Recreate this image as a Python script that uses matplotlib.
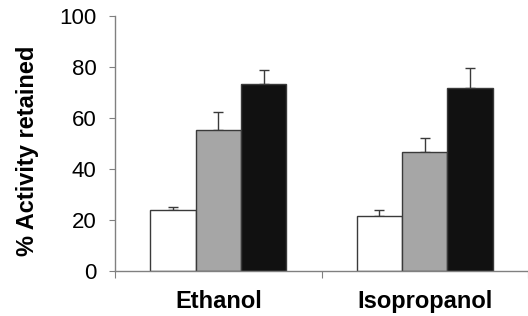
import numpy as np
import matplotlib.pyplot as plt

plt.rcParams['font.family'] = ['Liberation Sans', 'DejaVu Sans']

solvents = ['Ethanol', 'Isopropanol']
vals_white = [23.8, 21.4]
vals_gray = [55.4, 46.8]
vals_black = [73.5, 71.9]
err_white = [1.2, 2.4]
err_gray = [7.0, 5.4]
err_black = [5.5, 7.9]

fig = plt.figure(figsize=(5.28, 3.16), dpi=100)
ax = fig.add_axes([0.218, 0.1434, 0.782, 0.8056])

x = np.arange(len(solvents)) + 0.5
w = 0.22
axis_col = '#808080'
edge = '#3a3a3a'
ekw = dict(ecolor=edge, elinewidth=1.0, capthick=1.0)

for off, v, e, c in [(-w, vals_white, err_white, 'white'),
                     (0, vals_gray, err_gray, '#a6a6a6'),
                     (w, vals_black, err_black, '#111111')]:
    ax.bar(x + off, v, w, color=c, edgecolor=edge, linewidth=1.0, zorder=2)
    ax.errorbar(x + off, v, yerr=[np.zeros(len(e)), e], fmt='none',
                capsize=3.6, zorder=1, **ekw)

ax.set_xlim(0, 1.957)
ax.set_ylim(0, 100)
ax.set_yticks([0, 20, 40, 60, 80, 100])
ax.set_xticks([0, 1, 2])
ax.set_xticklabels([])
ax.set_xticks(x, minor=True)
ax.set_xticklabels(solvents, minor=True, fontsize=17, fontweight='bold')
ax.tick_params(axis='x', which='major', length=5, color=axis_col, direction='out')
ax.tick_params(axis='x', which='minor', length=0, pad=14)
ax.tick_params(axis='y', length=4.5, color=axis_col, labelsize=16, pad=9)

for s in ['top', 'right']:
    ax.spines[s].set_visible(False)
for s in ['left', 'bottom']:
    ax.spines[s].set_color(axis_col)
    ax.spines[s].set_linewidth(1.0)
ax.spines['left'].set_bounds(0, 100)

ax.set_ylabel('% Activity retained', fontsize=17, fontweight='bold')
ax.yaxis.set_label_coords(-0.185, 0.47)

fig.savefig('out.png', dpi=100)
